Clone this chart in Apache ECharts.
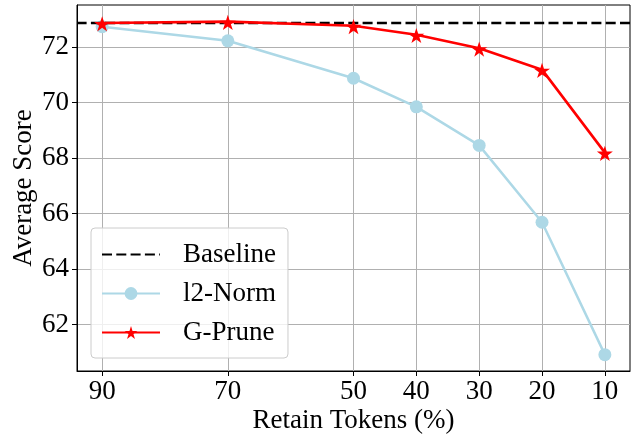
<!DOCTYPE html>
<html>
<head>
<meta charset="utf-8">
<script src="https://cdn.jsdelivr.net/npm/echarts@6/dist/echarts.min.js"></script>
<style>html,body{margin:0;padding:0;background:#fff}#c{width:641px;height:436px}</style>
</head>
<body>
<div id="c"></div>
<script>
// Data
const retainTokens = [90, 70, 50, 40, 30, 20, 10];
const l2Norm = [72.74, 72.23, 70.88, 69.85, 68.46, 65.69, 60.92];
const gPrune = [72.87, 72.92, 72.77, 72.45, 71.96, 71.19, 68.20];
const baselineValue = 72.87;
const xTickLabels = [90, 70, 50, 40, 30, 20, 10];
const yTickLabels = [62, 64, 66, 68, 70, 72];
const xRange = [6, 94];
const yRange = [60.33, 73.52];

const FONT = 'Liberation Serif';
const FS = 27;
const starPath = 'path://M100 0 L122.45 69.1 L195.1 69.1 L136.33 111.8 L158.8 180.9 L100 138.2 L41.2 180.9 L63.67 111.8 L4.9 69.1 L77.55 69.1 Z';

const chart = echarts.init(document.getElementById('c'), null, {renderer: 'canvas'});
chart.setOption({
  animation: false,
  backgroundColor: '#fff',
  textStyle: {fontFamily: FONT},
  grid: {left: 77, right: 11, top: 5, bottom: 65, outerBoundsMode: 'none', containLabel: false,
         show: true, borderColor: '#000', borderWidth: 1, backgroundColor: 'transparent'},
  xAxis: {
    type: 'value', inverse: true, min: xRange[0], max: xRange[1],
    name: 'Retain Tokens (%)', nameLocation: 'middle', nameGap: 36, nameMoveOverlap: false,
    nameTextStyle: {fontFamily: FONT, fontSize: FS, color: '#000'},
    axisLine: {show: true, lineStyle: {color: '#000', width: 1}},
    axisTick: {show: true, length: 5, lineStyle: {color: '#000'}, customValues: xTickLabels},
    axisLabel: {fontFamily: FONT, fontSize: FS, color: '#000', margin: 7, customValues: xTickLabels},
    splitLine: {show: true, lineStyle: {color: '#b0b0b0', width: 1}}
  },
  yAxis: {
    type: 'value', min: yRange[0], max: yRange[1],
    name: 'Average Score', nameLocation: 'middle', nameGap: 40, nameRotate: 90, nameMoveOverlap: false,
    nameTextStyle: {fontFamily: FONT, fontSize: FS, color: '#000', verticalAlign: 'bottom'},
    axisLine: {show: true, lineStyle: {color: '#000', width: 1}},
    axisTick: {show: true, length: 5, lineStyle: {color: '#000'}, customValues: yTickLabels},
    axisLabel: {fontFamily: FONT, fontSize: FS, color: '#000', margin: 8, customValues: yTickLabels},
    splitLine: {show: true, lineStyle: {color: '#b0b0b0', width: 1}}
  },
  legend: {
    left: 91, top: 228, orient: 'vertical',
    padding: [13, 12, 12, 10], itemGap: 12, itemWidth: 58, itemHeight: 16,
    backgroundColor: 'rgba(255,255,255,0.8)', borderColor: '#cccccc', borderWidth: 1, borderRadius: 4,
    textStyle: {fontFamily: FONT, fontSize: FS, color: '#000', padding: [0, 0, 0, 18]},
    data: [
      {name: 'Baseline', itemStyle: {opacity: 0}},
      {name: 'l2-Norm'},
      {name: 'G-Prune'}
    ]
  },
  series: [
    {
      name: 'Baseline', type: 'line', symbol: 'none', z: 3,
      data: [[xRange[0], baselineValue], [xRange[1], baselineValue]],
      lineStyle: {color: '#000', width: 2.6, type: [10, 4.3]},
      itemStyle: {color: '#000'}
    },
    {
      name: 'l2-Norm', type: 'line', symbol: 'circle', symbolSize: 13, z: 2,
      data: retainTokens.map((x, i) => [x, l2Norm[i]]),
      lineStyle: {color: '#add8e6', width: 2.5},
      itemStyle: {color: '#add8e6'}
    },
    {
      name: 'G-Prune', type: 'line', symbol: starPath, symbolSize: 16, symbolKeepAspect: true, symbolOffset: [0, 0.8], z: 4,
      data: retainTokens.map((x, i) => [x, gPrune[i]]),
      lineStyle: {color: '#ff0000', width: 2.6},
      itemStyle: {color: '#ff0000'}
    }
  ]
});
</script>
</body>
</html>
